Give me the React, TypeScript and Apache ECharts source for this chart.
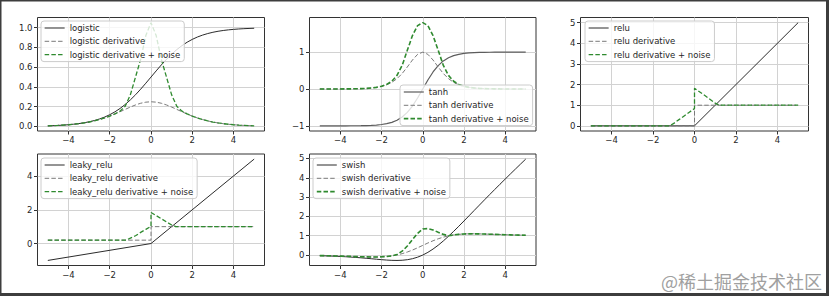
import React, { useEffect, useRef } from "react";
import * as echarts from "echarts";

// ---------- data ----------
const X = [
  -5, -4.75, -4.5, -4.25, -4, -3.75, -3.5, -3.25, -3, -2.75, -2.5, -2.25, -2, -1.75, -1.5, -1.25, -1, -0.75, -0.5, -0.25,
  0, 0.25, 0.5, 0.75, 1, 1.25, 1.5, 1.75, 2, 2.25, 2.5, 2.75, 3, 3.25, 3.5, 3.75, 4, 4.25, 4.5, 4.75, 5,
];

const LOGISTIC = [
  0.0067, 0.0086, 0.011, 0.0141, 0.018, 0.023, 0.0293, 0.0373, 0.0474, 0.0601, 0.0759, 0.0953, 0.1192, 0.148, 0.1824,
  0.2227, 0.2689, 0.3208, 0.3775, 0.4378, 0.5, 0.5622, 0.6225, 0.6792, 0.7311, 0.7773, 0.8176, 0.852, 0.8808, 0.9047,
  0.9241, 0.9399, 0.9526, 0.9627, 0.9707, 0.977, 0.982, 0.9859, 0.989, 0.9914, 0.9933,
];
const LOGISTIC_DERIV = [
  0.0066, 0.0085, 0.0109, 0.0139, 0.0177, 0.0225, 0.0285, 0.0359, 0.0452, 0.0565, 0.0701, 0.0863, 0.105, 0.1261, 0.1491,
  0.1731, 0.1966, 0.2179, 0.235, 0.2461, 0.25, 0.2461, 0.235, 0.2179, 0.1966, 0.1731, 0.1491, 0.1261, 0.105, 0.0863,
  0.0701, 0.0565, 0.0452, 0.0359, 0.0285, 0.0225, 0.0177, 0.0139, 0.0109, 0.0085, 0.0066,
];
const LOGISTIC_NOISE = [
  0.0066, 0.0085, 0.0109, 0.0139, 0.0177, 0.0225, 0.0285, 0.0359, 0.0452, 0.0565, 0.0701, 0.0863, 0.105, 0.128, 0.155,
  0.205, 0.32, 0.5, 0.68, 0.92, 1.05, 0.92, 0.68, 0.5, 0.32, 0.205, 0.155, 0.128, 0.105, 0.0863,
  0.0701, 0.0565, 0.0452, 0.0359, 0.0285, 0.0225, 0.0177, 0.0139, 0.0109, 0.0085, 0.0066,
];

const TANH = [
  -0.9999, -0.9999, -0.9998, -0.9996, -0.9993, -0.9989, -0.9982, -0.997, -0.9951, -0.9919, -0.9866, -0.978, -0.964,
  -0.9414, -0.9051, -0.8483, -0.7616, -0.6351, -0.4621, -0.2449, 0, 0.2449, 0.4621, 0.6351, 0.7616, 0.8483, 0.9051,
  0.9414, 0.964, 0.978, 0.9866, 0.9919, 0.9951, 0.997, 0.9982, 0.9989, 0.9993, 0.9996, 0.9998, 0.9999, 0.9999,
];
const TANH_DERIV = [
  0.0002, 0.0003, 0.0005, 0.0008, 0.0013, 0.0022, 0.0036, 0.006, 0.0099, 0.0162, 0.0266, 0.0435, 0.0707, 0.1138, 0.1807,
  0.2804, 0.42, 0.5966, 0.7864, 0.94, 1, 0.94, 0.7864, 0.5966, 0.42, 0.2804, 0.1807, 0.1138, 0.0707, 0.0435, 0.0266,
  0.0162, 0.0099, 0.006, 0.0036, 0.0022, 0.0013, 0.0008, 0.0005, 0.0003, 0.0002,
];
const TANH_NOISE = [
  0.0002, 0.0003, 0.0005, 0.0008, 0.0013, 0.0022, 0.0036, 0.006, 0.0099, 0.0162, 0.0266, 0.0435, 0.075, 0.125, 0.21,
  0.37, 0.64, 1.05, 1.45, 1.72, 1.8, 1.72, 1.45, 1.05, 0.64, 0.37, 0.21, 0.125, 0.075, 0.0435, 0.0266,
  0.0162, 0.0099, 0.006, 0.0036, 0.0022, 0.0013, 0.0008, 0.0005, 0.0003, 0.0002,
];

const RELU_X = [-5, 0, 5];
const RELU = [0, 0, 5];
const RELU_DERIV_X = [-5, 0, 0, 5];
const RELU_DERIV = [0, 0, 1, 1];
const RELU_NOISE_X = [-5, -1.2, -1, -0.75, -0.5, -0.25, 0, 0, 0.5, 1, 1.2, 5];
const RELU_NOISE = [0, 0, 0.12, 0.3, 0.48, 0.66, 0.84, 1.82, 1.47, 1.1, 1, 1];

const LEAKY_X = [-5, 0, 5];
const LEAKY = [-1, 0, 5];
const LEAKY_DERIV_X = [-5, 0, 0, 5];
const LEAKY_DERIV = [0.2, 0.2, 1, 1];
const LEAKY_NOISE_X = [-5, -1.2, -1, -0.75, -0.5, -0.25, 0, 0, 0.5, 1, 1.2, 5];
const LEAKY_NOISE = [0.2, 0.2, 0.32, 0.46, 0.66, 0.84, 1.02, 1.84, 1.47, 1.1, 1, 1];

const SWISH = [
  -0.0335, -0.0408, -0.0494, -0.0598, -0.0719, -0.0862, -0.1026, -0.1213, -0.1423, -0.1652, -0.1896, -0.2145, -0.2384,
  -0.2591, -0.2736, -0.2784, -0.2689, -0.2406, -0.1888, -0.1095, 0, 0.1405, 0.3112, 0.5094, 0.7311, 0.9716, 1.2264,
  1.4909, 1.7616, 2.0355, 2.3104, 2.5848, 2.8577, 3.1287, 3.3974, 3.6638, 3.9281, 4.1903, 4.4505, 4.7092, 4.9665,
];
const SWISH_DERIV = [
  -0.0266, -0.0318, -0.0379, -0.0448, -0.0527, -0.0612, -0.0703, -0.0795, -0.0881, -0.0952, -0.0994, -0.0987, -0.0908,
  -0.0727, -0.0413, 0.0063, 0.0723, 0.1574, 0.26, 0.3763, 0.5, 0.6237, 0.74, 0.8426, 0.9277, 0.9937, 1.0413, 1.0727,
  1.0908, 1.0987, 1.0994, 1.0952, 1.0881, 1.0795, 1.0703, 1.0612, 1.0527, 1.0448, 1.0379, 1.0318, 1.0266,
];
const SWISH_NOISE = [
  -0.0266, -0.0318, -0.0379, -0.0448, -0.0527, -0.0612, -0.0703, -0.0795, -0.0881, -0.0952, -0.0994, -0.0987, -0.0908,
  -0.0727, -0.0413, 0.03, 0.2, 0.47, 0.8, 1.12, 1.35, 1.37, 1.3, 1.18, 1.07, 1.0, 1.0413, 1.0727,
  1.0908, 1.0987, 1.0994, 1.0952, 1.0881, 1.0795, 1.0703, 1.0612, 1.0527, 1.0448, 1.0379, 1.0318, 1.0266,
];

const X_TICKS = [-4, -2, 0, 2, 4];
const Y_TICKS_LOGISTIC = [0, 0.2, 0.4, 0.6, 0.8, 1.0];
const Y_TICKS_TANH = [-1, 0, 1];
const Y_TICKS_RELU = [0, 1, 2, 3, 4, 5];
const Y_TICKS_LEAKY = [0, 2, 4];
const Y_TICKS_SWISH = [0, 1, 2, 3, 4, 5];

// ---------- layout / style ----------
const FONT = "DejaVu Sans";
const TXT = "#262626";
const FRAME = "#333333";
const GRIDLINE = "#d2d2d2";
const FUNC_COLOR = "#2b2b2b";
const DERIV_COLOR = "#7a7a7a";
const NOISE_COLOR = "#2f8a2f";

const PANELS = [
  { left: 37.5, top: 17.5, width: 227, height: 113.5, ymin: -0.0455, ymax: 1.102, yticks: Y_TICKS_LOGISTIC, dec: 1 },
  { left: 309.5, top: 17.5, width: 226.5, height: 113.5, ymin: -1.14, ymax: 1.94, yticks: Y_TICKS_TANH, dec: 0 },
  { left: 580.5, top: 17.5, width: 228, height: 113.5, ymin: -0.25, ymax: 5.25, yticks: Y_TICKS_RELU, dec: 0 },
  { left: 37.5, top: 154, width: 227, height: 111.5, ymin: -1.3, ymax: 5.3, yticks: Y_TICKS_LEAKY, dec: 0 },
  { left: 309.5, top: 154, width: 226.5, height: 111.5, ymin: -0.54, ymax: 5.23, yticks: Y_TICKS_SWISH, dec: 0 },
];

const fmt = (v: number, dec: number) => {
  const s = Math.abs(v).toFixed(dec);
  return v < -1e-9 ? "\u2212" + s : s;
};

const zip = (xs: number[], ys: number[]) => xs.map((x, i) => [x, ys[i]]);

export default function App() {
  const ref = useRef<HTMLDivElement>(null);

  useEffect(() => {
    if (!ref.current) return;
    const chart = echarts.init(ref.current, undefined, { renderer: "svg" });

    const grids = PANELS.map((p) => ({
      left: p.left,
      top: p.top,
      width: p.width,
      height: p.height,
      show: true,
      borderColor: FRAME,
      borderWidth: 1,
      backgroundColor: "#ffffff",
      containLabel: false,
      outerBoundsMode: "none",
    }));

    const xAxes = PANELS.map((p, i) => ({
      type: "value",
      gridIndex: i,
      min: -5.5,
      max: 5.5,
      axisLine: { show: false, onZero: false },
      axisTick: { show: true, length: 3.5, customValues: X_TICKS, lineStyle: { color: FRAME, width: 1 } },
      axisLabel: {
        customValues: X_TICKS,
        formatter: (v: number) => fmt(v, 0),
        fontSize: 8.5,
        fontFamily: FONT,
        color: TXT,
        margin: 4.5,
      },
      splitLine: { show: true, lineStyle: { color: GRIDLINE, width: 1 } },
    }));

    const yAxes = PANELS.map((p, i) => ({
      type: "value",
      gridIndex: i,
      min: p.ymin,
      max: p.ymax,
      axisLine: { show: false, onZero: false },
      axisTick: { show: true, length: 3.5, customValues: p.yticks, lineStyle: { color: FRAME, width: 1 } },
      axisLabel: {
        customValues: p.yticks,
        formatter: (v: number) => fmt(v, p.dec),
        fontSize: 8.5,
        fontFamily: FONT,
        color: TXT,
        margin: 5,
      },
      splitLine: { show: true, lineStyle: { color: GRIDLINE, width: 1 } },
    }));

    const line = (
      name: string,
      idx: number,
      data: number[][],
      color: string,
      width: number,
      dashed: boolean
    ) => ({
      type: "line",
      name,
      xAxisIndex: idx,
      yAxisIndex: idx,
      data,
      symbol: "none",
      showSymbol: false,
      smooth: false,
      clip: false,
      lineStyle: { color, width, type: dashed ? [4.5, 2.2] : "solid" },
      itemStyle: { color },
      emphasis: { disabled: true },
      z: 3,
    });

    const series = [
      line("logistic", 0, zip(X, LOGISTIC), FUNC_COLOR, 1, false),
      line("logistic derivative", 0, zip(X, LOGISTIC_DERIV), DERIV_COLOR, 1, true),
      line("logistic derivative + noise", 0, zip(X, LOGISTIC_NOISE), NOISE_COLOR, 1.3, true),

      line("tanh", 1, zip(X, TANH), "#5c5c5c", 1.2, false),
      line("tanh derivative", 1, zip(X, TANH_DERIV), DERIV_COLOR, 1, true),
      line("tanh derivative + noise", 1, zip(X, TANH_NOISE), NOISE_COLOR, 1.6, true),

      line("relu", 2, zip(RELU_X, RELU), FUNC_COLOR, 1, false),
      line("relu derivative", 2, zip(RELU_DERIV_X, RELU_DERIV), DERIV_COLOR, 1, true),
      line("relu derivative + noise", 2, zip(RELU_NOISE_X, RELU_NOISE), NOISE_COLOR, 1.3, true),

      line("leaky_relu", 3, zip(LEAKY_X, LEAKY), FUNC_COLOR, 1, false),
      line("leaky_relu derivative", 3, zip(LEAKY_DERIV_X, LEAKY_DERIV), DERIV_COLOR, 1, true),
      line("leaky_relu derivative + noise", 3, zip(LEAKY_NOISE_X, LEAKY_NOISE), NOISE_COLOR, 1.3, true),

      line("swish", 4, zip(X, SWISH), FUNC_COLOR, 1, false),
      line("swish derivative", 4, zip(X, SWISH_DERIV), DERIV_COLOR, 1, true),
      line("swish derivative + noise", 4, zip(X, SWISH_NOISE), NOISE_COLOR, 1.6, true),
    ];

    const legendBase = {
      orient: "vertical",
      itemWidth: 20,
      itemHeight: 8,
      itemGap: 3.3,
      padding: [2, 4, 2, 3],
      backgroundColor: "rgba(255,255,255,0.8)",
      borderColor: "#cccccc",
      borderWidth: 1,
      borderRadius: 3,
      selectedMode: false,
      itemStyle: { opacity: 0, color: "transparent", borderWidth: 0 },
      lineStyle: { width: "inherit", type: "inherit", color: "inherit" },
      textStyle: { fontSize: 8.5, fontFamily: FONT, color: TXT, lineHeight: 10 },
      z: 10,
    };
    const names = (base: string) => [base, base + " derivative", base + " derivative + noise"];
    const legends = [
      { ...legendBase, left: 41, top: 21, data: names("logistic") },
      { ...legendBase, left: 400, top: 85, data: names("tanh") },
      { ...legendBase, left: 585, top: 21, data: names("relu") },
      { ...legendBase, left: 41, top: 158, data: names("leaky_relu") },
      { ...legendBase, left: 313, top: 158, data: names("swish") },
    ];

    const BORDER = "#3d3d3d";
    chart.setOption({
      animation: false,
      backgroundColor: "#ffffff",
      grid: grids,
      xAxis: xAxes,
      yAxis: yAxes,
      legend: legends,
      series,
      graphic: [
        { type: "rect", shape: { x: 0, y: 0, width: 829, height: 1.5 }, style: { fill: BORDER }, silent: true },
        { type: "rect", shape: { x: 0, y: 0, width: 1.5, height: 296 }, style: { fill: BORDER }, silent: true },
        { type: "rect", shape: { x: 826, y: 0, width: 3, height: 296 }, style: { fill: BORDER }, silent: true },
        { type: "rect", shape: { x: 0, y: 293, width: 829, height: 3 }, style: { fill: BORDER }, silent: true },
        {
          type: "text",
          x: 822,
          y: 281,
          silent: true,
          style: {
            text: "@稀土掘金技术社区",
            fontSize: 18,
            fontFamily: "Noto Sans CJK SC",
            fill: "#a0a0a0",
            align: "right",
            verticalAlign: "middle",
          },
        },
      ],
    });

    return () => chart.dispose();
  }, []);

  return (
    <div
      ref={ref}
      style={{ position: "absolute", left: 0, top: 0, width: 829, height: 296, background: "#ffffff" }}
    />
  );
}
